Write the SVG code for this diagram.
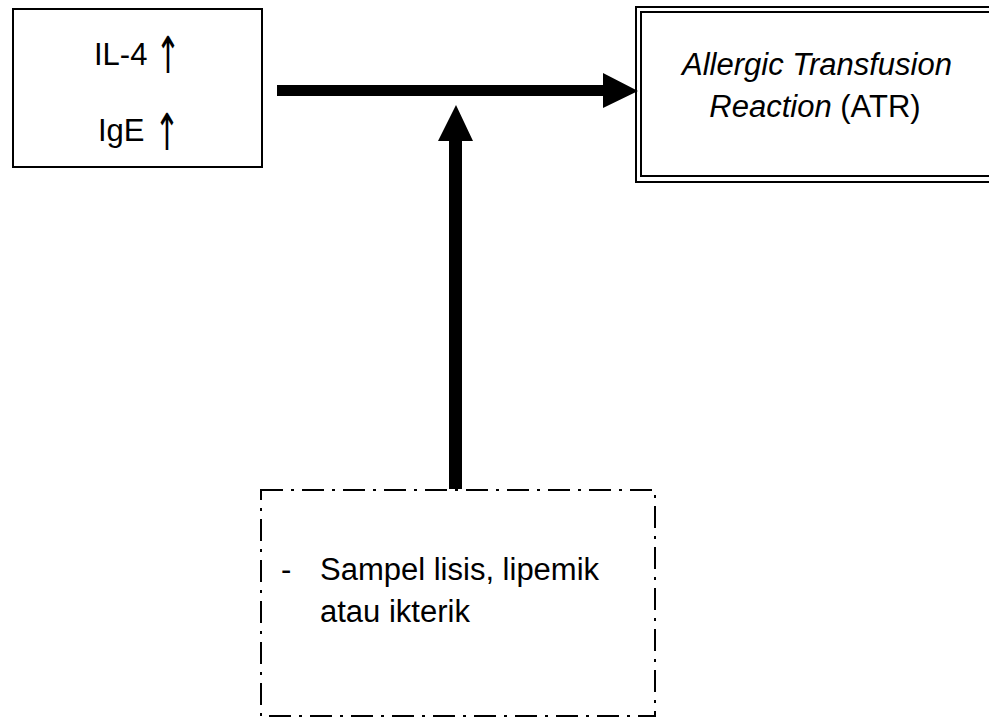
<svg xmlns="http://www.w3.org/2000/svg" width="989" height="720" viewBox="0 0 989 720">
<style>
text{font-family:"Liberation Sans",Arial,sans-serif;font-size:31px;fill:#000}
.arr{font-family:"DejaVu Sans",sans-serif;font-size:30px}
.box{fill:#fff;stroke:#000;stroke-width:2}
.dbl{fill:none;stroke:#000;stroke-width:2}
.dash{fill:none;stroke:#000;stroke-width:2;stroke-dasharray:22 8 3 8}
.it{font-style:italic}
</style>
<rect width="989" height="720" fill="#fff"/>
<g id="connectors">
<path d="M277 85 H603 V73 L638 91 L603 108 V96 H277 Z" fill="#000"/>
<path d="M449 489 V141 H438 L456 105 L473 141 H462 V489 Z" fill="#000"/>
</g>
<g id="node-il4">
<rect class="box" x="13" y="9" width="249" height="158"/>
<text x="94" y="65">IL-4</text>
<text class="arr" text-anchor="middle" transform="translate(168,73) scale(1,1.7)">↑</text>
<text x="98" y="141">IgE</text>
<text class="arr" text-anchor="middle" transform="translate(167,150) scale(1,1.7)">↑</text>
</g>
<g id="node-atr">
<rect class="dbl" x="636" y="7" width="380" height="175"/>
<rect class="dbl" x="641" y="12" width="370" height="164"/>
<text class="it" x="817" y="75" text-anchor="middle">Allergic Transfusion</text>
<text x="815" y="117" text-anchor="middle"><tspan class="it">Reaction</tspan> (ATR)</text>
</g>
<g id="node-sampel">
<rect class="dash" x="261" y="490" width="394" height="226"/>
<text x="281" y="580">-</text>
<text x="320" y="580">Sampel lisis, lipemik</text>
<text x="320" y="622">atau ikterik</text>
</g>
</svg>
